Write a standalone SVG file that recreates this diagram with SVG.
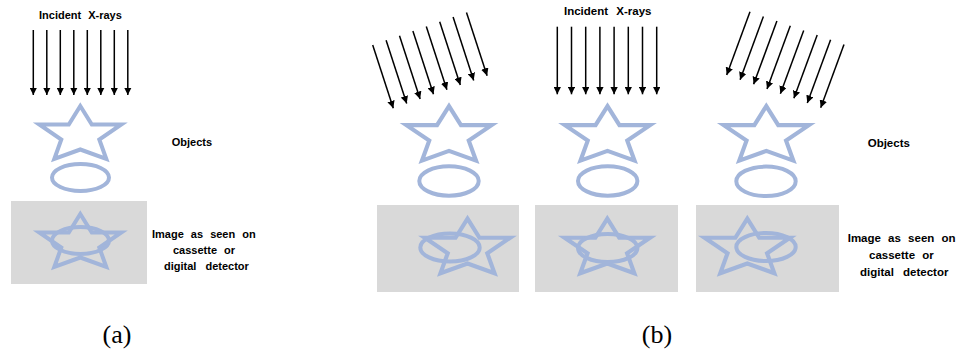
<svg xmlns="http://www.w3.org/2000/svg" xmlns:xlink="http://www.w3.org/1999/xlink" width="957" height="358" viewBox="0 0 957 358">
  <style>
    .shape { fill: none; stroke: #A2B5DA; stroke-width: 4; stroke-linejoin: miter; }
    .plate { fill: #D9D9D9; }
    .ray { stroke: #000; stroke-width: 1.5; fill: none; marker-end: url(#head); }
    .lbl { font-family: "Liberation Sans", Arial, sans-serif; font-weight: bold; font-size: 11px; fill: #000; word-spacing: 4px; }
    .lblR { font-size: 11.5px; }
    .cap { font-family: "Liberation Serif", "Times New Roman", serif; font-size: 26px; fill: #000; text-anchor: middle; }
  </style>
  <defs>
    <marker id="head" viewBox="0 0 8 8" refX="8" refY="4" markerUnits="userSpaceOnUse" markerWidth="7.5" markerHeight="7.5" orient="auto">
      <path d="M0,0 L8,4 L0,8 z" fill="#000"/>
    </marker>
    <!-- five-pointed star, centred on its origin -->
    <path id="star" d="M0,-27 L11.5,-8.5 L41,-8.5 L19,6.5 L26,26 L0,16.5 L-26,26 L-19,6.5 L-41,-8.5 L-11.5,-8.5 Z"/>
  </defs>

  <!-- panel (a) -->
  <g id="a-label-rays">
    <text class="lbl" x="39" y="18.5">Incident X-rays</text>
  </g>
  <g id="a-objects">
    <use xlink:href="#star" class="shape" transform="translate(80.3,133)"/>
    <ellipse class="shape" cx="80.5" cy="177.5" rx="28.5" ry="13.5"/>
  </g>
  <g id="a-label-objects">
    <text class="lbl" x="171.7" y="145.7">Objects</text>
  </g>
  <g id="a-detector">
    <rect class="plate" x="11" y="201" width="136" height="83"/>
    <use xlink:href="#star" class="shape" transform="translate(80.3,241)"/>
    <ellipse class="shape" cx="80.5" cy="240.5" rx="28.5" ry="13.5"/>
  </g>
  <g id="a-label-image">
    <text class="lbl" x="152" y="238.3">Image as seen on</text>
    <text class="lbl" x="173" y="254">cassette or</text>
    <text class="lbl" x="164" y="269.5" style="word-spacing:6px">digital detector</text>
  </g>
  <text class="cap" x="117" y="343">(a)</text>

  <!-- panel (b) -->
  <g id="b-label-rays">
    <text class="lbl lblR" x="564" y="14.7" style="word-spacing:5px">Incident X-rays</text>
  </g>
  <g id="b-objects-left">
    <use xlink:href="#star" class="shape" transform="translate(449,133.9) scale(1.04,1.03)"/>
    <ellipse class="shape" cx="449" cy="181" rx="29.7" ry="14.7"/>
  </g>
  <g id="b-objects-mid">
    <use xlink:href="#star" class="shape" transform="translate(607.5,133.9) scale(1.04,1.03)"/>
    <ellipse class="shape" cx="607.7" cy="181" rx="29.7" ry="14.7"/>
  </g>
  <g id="b-objects-right">
    <use xlink:href="#star" class="shape" transform="translate(766.3,133.9) scale(1.04,1.03)"/>
    <ellipse class="shape" cx="766" cy="181.3" rx="29.7" ry="14.7"/>
  </g>
  <g id="b-label-objects">
    <text class="lbl lblR" x="867.7" y="146.7">Objects</text>
  </g>
  <g id="b-detector-left">
    <rect class="plate" x="377" y="205" width="142" height="87"/>
    <use xlink:href="#star" class="shape" transform="translate(467.5,246.5) scale(1.04,1.03)"/>
    <ellipse class="shape" cx="450" cy="247.5" rx="29.7" ry="14"/>
  </g>
  <g id="b-detector-mid">
    <rect class="plate" x="535" y="205" width="143" height="87"/>
    <use xlink:href="#star" class="shape" transform="translate(607.3,246.5) scale(1.04,1.03)"/>
    <ellipse class="shape" cx="607.7" cy="248" rx="29.7" ry="14"/>
  </g>
  <g id="b-detector-right">
    <rect class="plate" x="696" y="205" width="143" height="87"/>
    <use xlink:href="#star" class="shape" transform="translate(747.3,246.5) scale(1.04,1.03)"/>
    <ellipse class="shape" cx="766" cy="247" rx="29.7" ry="14"/>
  </g>
  <g id="b-label-image">
    <text class="lbl lblR" x="847.7" y="242.3">Image as seen on</text>
    <text class="lbl lblR" x="869" y="259">cassette or</text>
    <text class="lbl lblR" x="860" y="275.7" style="word-spacing:6px">digital detector</text>
  </g>
  <text class="cap" x="657" y="343">(b)</text>

  <!-- incident ray bundles -->
  <g id="rays">
    <!-- (a) vertical beam -->
    <line class="ray" x1="33.3" y1="30" x2="33.3" y2="95"/>
    <line class="ray" x1="46.8" y1="30" x2="46.8" y2="95"/>
    <line class="ray" x1="60.3" y1="30" x2="60.3" y2="95"/>
    <line class="ray" x1="73.8" y1="30" x2="73.8" y2="95"/>
    <line class="ray" x1="87.3" y1="30" x2="87.3" y2="95"/>
    <line class="ray" x1="100.8" y1="30" x2="100.8" y2="95"/>
    <line class="ray" x1="114.3" y1="30" x2="114.3" y2="95"/>
    <line class="ray" x1="127.8" y1="30" x2="127.8" y2="95"/>
    <!-- (b) oblique beam from the left -->
    <line class="ray" x1="372.7" y1="45" x2="393.3" y2="108.3"/>
    <line class="ray" x1="386.1" y1="40.3" x2="406.7" y2="103.6"/>
    <line class="ray" x1="399.5" y1="35.7" x2="420.1" y2="99"/>
    <line class="ray" x1="412.9" y1="31" x2="433.5" y2="94.3"/>
    <line class="ray" x1="426.3" y1="26.4" x2="446.9" y2="89.7"/>
    <line class="ray" x1="439.7" y1="21.7" x2="460.3" y2="85"/>
    <line class="ray" x1="453.1" y1="17.1" x2="473.7" y2="80.4"/>
    <line class="ray" x1="466.5" y1="12.4" x2="487.1" y2="75.7"/>
    <!-- (b) vertical beam -->
    <line class="ray" x1="557.3" y1="26.7" x2="557.3" y2="94.3"/>
    <line class="ray" x1="571.5" y1="26.7" x2="571.5" y2="94.3"/>
    <line class="ray" x1="585.7" y1="26.7" x2="585.7" y2="94.3"/>
    <line class="ray" x1="599.9" y1="26.7" x2="599.9" y2="94.3"/>
    <line class="ray" x1="614.1" y1="26.7" x2="614.1" y2="94.3"/>
    <line class="ray" x1="628.3" y1="26.7" x2="628.3" y2="94.3"/>
    <line class="ray" x1="642.5" y1="26.7" x2="642.5" y2="94.3"/>
    <line class="ray" x1="656.7" y1="26.7" x2="656.7" y2="94.3"/>
    <!-- (b) oblique beam from the right -->
    <line class="ray" x1="750" y1="11.7" x2="726.7" y2="75"/>
    <line class="ray" x1="763.4" y1="16.4" x2="740.1" y2="79.7"/>
    <line class="ray" x1="776.9" y1="21" x2="753.6" y2="84.3"/>
    <line class="ray" x1="790.3" y1="25.7" x2="767" y2="89"/>
    <line class="ray" x1="803.7" y1="30.4" x2="780.4" y2="93.7"/>
    <line class="ray" x1="817.2" y1="35" x2="793.9" y2="98.3"/>
    <line class="ray" x1="830.6" y1="39.7" x2="807.3" y2="103"/>
    <line class="ray" x1="844" y1="44.4" x2="820.7" y2="107.7"/>
  </g>
</svg>
